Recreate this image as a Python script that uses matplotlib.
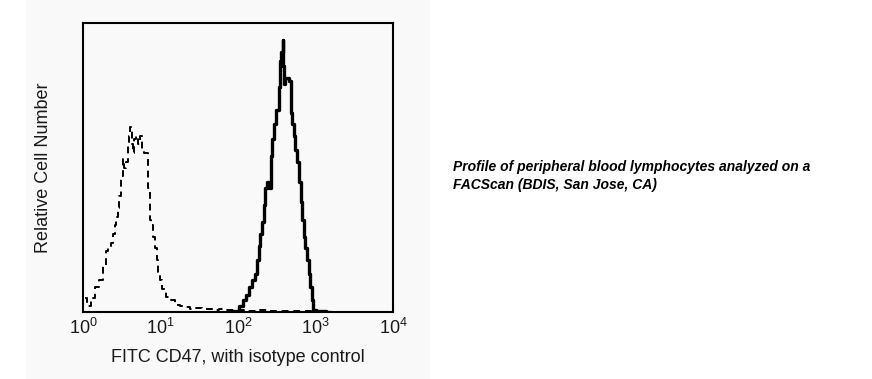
import numpy as np
import matplotlib
matplotlib.use("Agg")
import matplotlib.pyplot as plt
from matplotlib.patches import Rectangle

plt.rcParams['font.family'] = ['Liberation Sans', 'DejaVu Sans']
plt.rcParams['mathtext.fontset'] = 'custom'
plt.rcParams['mathtext.rm'] = 'Liberation Sans'
plt.rcParams['mathtext.it'] = 'Liberation Sans:italic'

# Isotype control histogram (log10 fluorescence, relative count)
iso_log = [0.03, 0.08, 0.13, 0.18, 0.24, 0.28, 0.31, 0.34, 0.37, 0.40, 0.42, 0.44,
           0.46, 0.48, 0.50, 0.52, 0.55, 0.57, 0.59, 0.60, 0.62, 0.64, 0.65, 0.67,
           0.70, 0.72, 0.75, 0.77, 0.80, 0.83, 0.85, 0.87, 0.89, 0.91, 0.94, 0.96,
           0.98, 1.00, 1.04, 1.09, 1.15, 1.22, 1.28, 1.35, 1.42, 1.50, 1.56, 1.65,
           1.72, 1.78, 1.88, 2.00, 2.15, 2.30, 2.45, 2.60, 2.75, 2.90, 3.05]
iso_cnt = [0.05, 0.02, 0.05, 0.088, 0.11, 0.16, 0.21, 0.23, 0.24, 0.27, 0.30, 0.33,
           0.36, 0.40, 0.47, 0.53, 0.50, 0.52, 0.58, 0.61, 0.64, 0.58, 0.55, 0.60,
           0.61, 0.58, 0.61, 0.56, 0.55, 0.55, 0.43, 0.32, 0.30, 0.26, 0.22, 0.18,
           0.14, 0.11, 0.08, 0.053, 0.04, 0.024, 0.02, 0.018, 0.012, 0.014, 0.010, 0.012,
           0.008, 0.010, 0.006, 0.007, 0.004, 0.006, 0.003, 0.004, 0.003, 0.002, 0.002]

# CD47 stained histogram
cd47_log = [1.90, 1.99, 2.04, 2.08, 2.12, 2.17, 2.20, 2.23, 2.26, 2.28, 2.30, 2.32,
            2.34, 2.36, 2.38, 2.41, 2.43, 2.45, 2.48, 2.50, 2.52, 2.54, 2.55, 2.57,
            2.58, 2.59, 2.60, 2.62, 2.64, 2.67, 2.69, 2.71, 2.73, 2.75, 2.77, 2.80,
            2.82, 2.84, 2.86, 2.88, 2.90, 2.92, 2.94, 2.96, 2.98, 3.02, 3.10, 3.18]
cd47_cnt = [0.002, 0.005, 0.02, 0.04, 0.06, 0.088, 0.11, 0.13, 0.18, 0.23, 0.27, 0.31,
            0.37, 0.43, 0.45, 0.43, 0.54, 0.60, 0.65, 0.70, 0.70, 0.78, 0.87, 0.90,
            0.94, 0.85, 0.79, 0.81, 0.81, 0.80, 0.69, 0.65, 0.61, 0.56, 0.52, 0.45,
            0.38, 0.32, 0.26, 0.22, 0.18, 0.13, 0.088, 0.04, 0.007, 0.003, 0.002, 0.0]

xtick_vals = [1, 10, 100, 1000, 10000]
xtick_labels = [r'10$^{0}$', r'10$^{1}$', r'10$^{2}$', r'10$^{3}$', r'10$^{4}$']

fig = plt.figure(figsize=(8.72, 3.79), dpi=100)
fig.patch.set_facecolor('white')
fig.patches.append(Rectangle((26 / 872, 0), (430 - 26) / 872, 1, transform=fig.transFigure,
                             facecolor='#f9f9f9', edgecolor='none', zorder=-10))

ax = fig.add_axes([83 / 872, 1 - 312 / 379, (393 - 83) / 872, (312 - 23) / 379])
ax.set_zorder(5)
ax.set_facecolor('#f9f9f9')
ax.set_xscale('log')
ax.plot(np.power(10.0, iso_log), iso_cnt, color='black', lw=1.4, ls=(0, (3.5, 2.5)),
        drawstyle='steps-mid')
ax.plot(np.power(10.0, cd47_log), cd47_cnt, color='black', lw=2.4,
        drawstyle='steps-mid')
ax.set_xlim(1, 10000)
ax.set_ylim(0, 1)
ax.set_yticks([])
ax.set_xticks(xtick_vals)
ax.set_xticklabels(xtick_labels)
ax.minorticks_off()
ax.tick_params(axis='x', length=0, pad=4, labelsize=13, labelcolor='#1a1a1a')
for s in ax.spines.values():
    s.set_linewidth(1.5)
ax.set_xlabel('FITC CD47, with isotype control', fontsize=13, labelpad=8, color='#1a1a1a')
ax.set_ylabel('Relative Cell Number', fontsize=13, labelpad=22, color='#1a1a1a')

fig.text(453 / 872, 1 - 176 / 379,
         'Profile of peripheral blood lymphocytes analyzed on a\nFACScan (BDIS, San Jose, CA)',
         fontsize=10, fontweight='bold', fontstyle='italic', ha='left', va='center',
         linespacing=1.45, zorder=6)

fig.savefig('out.png', dpi=100)
